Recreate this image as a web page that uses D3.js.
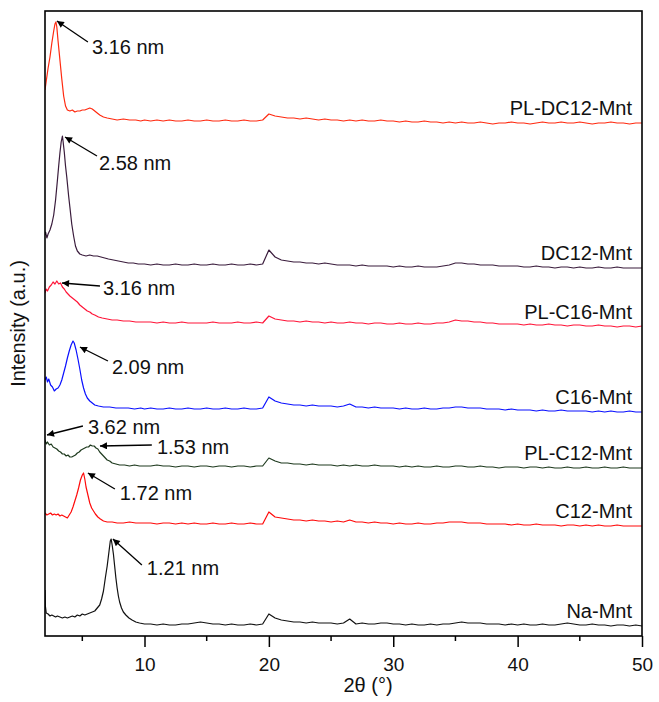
<!DOCTYPE html>
<html>
<head>
<meta charset="utf-8">
<script src="https://cdn.jsdelivr.net/npm/d3@7"></script>
<style>
  body { margin: 0; background: #fff; }
  svg text { font-family: "Liberation Sans", Arial, Helvetica, sans-serif; fill: #111; }
</style>
</head>
<body>
<svg id="chart" width="659" height="702"></svg>
<script>
// sample names, top to bottom
const sampleNames = ['PL-DC12-Mnt', 'DC12-Mnt', 'PL-C16-Mnt', 'C16-Mnt', 'PL-C12-Mnt', 'C12-Mnt', 'Na-Mnt'];
// vertical stacking offset of each pattern (a.u.)
const offsets = [513, 368, 309, 224, 168, 110, 10];

// low angle part, [2theta, intensity above baseline]
const lowPLDC12 = [[2.0, 33], [2.1, 42], [2.25, 55], [2.4, 66], [2.55, 80], [2.7, 92], [2.8, 99], [2.88, 101], [2.95, 96],
  [3.05, 82], [3.2, 63], [3.35, 44], [3.5, 27], [3.65, 17], [3.8, 13], [4.0, 12], [4.2, 13], [4.4, 11], [4.6, 12],
  [4.8, 12], [5.0, 13], [5.2, 13], [5.4, 14], [5.6, 15], [5.8, 14], [6.0, 12], [6.2, 10], [6.4, 8], [6.7, 6],
  [7.0, 5], [7.4, 4], [7.8, 3], [8.3, 4], [8.8, 3], [9.3, 3], [9.7, 2]];
const lowDC12 = [[2.0, 33], [2.05, 36], [2.15, 30], [2.25, 34], [2.4, 38], [2.55, 44], [2.7, 53], [2.85, 68], [3.0, 88],
  [3.1, 102], [3.2, 115], [3.3, 126], [3.4, 132], [3.45, 127], [3.55, 116], [3.65, 102], [3.75, 91], [3.9, 72],
  [4.0, 61], [4.15, 44], [4.3, 32], [4.45, 22], [4.6, 17], [4.8, 14], [5.0, 13], [5.3, 12], [5.6, 13], [5.9, 12],
  [6.2, 12], [6.5, 11], [6.8, 10], [7.1, 9], [7.5, 8], [7.9, 7], [8.3, 6], [8.7, 5], [9.1, 5], [9.5, 4]];
const lowPLC16 = [[2.0, 34], [2.1, 38], [2.2, 36], [2.35, 40], [2.5, 42], [2.65, 45], [2.8, 43], [2.95, 46], [3.1, 43],
  [3.25, 44], [3.4, 40], [3.55, 38], [3.7, 35], [3.85, 33], [4.0, 31], [4.2, 29], [4.4, 27], [4.6, 25], [4.8, 22],
  [5.0, 20], [5.2, 18], [5.4, 16], [5.6, 15], [5.8, 13], [6.0, 12], [6.3, 10], [6.6, 9], [7.0, 8], [7.4, 7],
  [7.8, 7], [8.3, 6], [8.8, 6], [9.3, 5], [9.7, 5]];
const lowC16 = [[2.0, 32], [2.1, 35], [2.2, 30], [2.3, 33], [2.45, 27], [2.6, 25], [2.75, 21], [2.9, 23], [3.05, 24],
  [3.2, 27], [3.35, 32], [3.5, 39], [3.65, 46], [3.8, 54], [3.95, 61], [4.1, 67], [4.25, 71], [4.35, 69], [4.5, 62],
  [4.65, 53], [4.8, 43], [4.95, 32], [5.1, 24], [5.25, 18], [5.4, 14], [5.6, 11], [5.8, 9], [6.0, 7], [6.3, 6],
  [6.7, 5], [7.2, 5], [7.7, 4], [8.2, 4], [8.7, 4], [9.2, 3], [9.7, 4]];
const lowPLC12 = [[2.0, 28], [2.1, 24], [2.2, 26], [2.35, 23], [2.5, 24], [2.65, 21], [2.8, 20], [2.95, 19], [3.1, 17],
  [3.25, 16], [3.4, 14], [3.55, 14], [3.7, 12], [3.85, 13], [4.0, 11], [4.15, 11], [4.3, 12], [4.45, 13], [4.6, 15],
  [4.75, 16], [4.9, 18], [5.05, 19], [5.2, 20], [5.35, 21], [5.5, 21], [5.65, 23], [5.8, 22], [5.95, 22], [6.1, 20],
  [6.25, 19], [6.4, 16], [6.55, 14], [6.7, 12], [6.85, 10], [7.0, 8], [7.2, 7], [7.4, 5], [7.7, 4], [8.0, 3],
  [8.4, 3], [8.8, 2], [9.2, 3], [9.6, 2]];
const lowC12 = [[2.0, 13], [2.15, 11], [2.3, 12], [2.45, 13], [2.6, 11], [2.75, 12], [2.9, 11], [3.05, 12], [3.2, 10],
  [3.35, 11], [3.5, 10], [3.65, 9], [3.8, 8], [3.95, 11], [4.1, 14], [4.25, 19], [4.4, 25], [4.55, 31], [4.7, 38],
  [4.85, 46], [5.0, 51], [5.1, 53], [5.2, 47], [5.3, 39], [5.45, 31], [5.6, 23], [5.75, 18], [5.9, 15], [6.05, 12],
  [6.25, 9], [6.45, 7], [6.7, 5], [7.0, 4], [7.4, 4], [7.8, 3], [8.3, 3], [8.8, 4], [9.3, 3], [9.7, 3]];
const lowNa = [[2.0, 36], [2.03, 20], [2.1, 13], [2.25, 12], [2.4, 10], [2.55, 11], [2.7, 10], [2.85, 9], [3.0, 10],
  [3.2, 9], [3.4, 8], [3.6, 9], [3.8, 8], [4.0, 9], [4.2, 10], [4.4, 9], [4.6, 11], [4.8, 10], [5.0, 12], [5.2, 11],
  [5.4, 12], [5.6, 13], [5.8, 14], [6.0, 15], [6.2, 18], [6.4, 21], [6.55, 27], [6.7, 35], [6.85, 48], [7.0, 60],
  [7.15, 75], [7.25, 85], [7.32, 87], [7.4, 81], [7.5, 72], [7.6, 60], [7.7, 48], [7.8, 38], [7.9, 30], [8.0, 24],
  [8.15, 18], [8.3, 14], [8.5, 11], [8.75, 8], [9.0, 6], [9.3, 4], [9.6, 3]];

// 10-50 degrees, common angle grid
const highAngles = [
  10, 10.5, 11, 11.5, 12, 12.5, 13, 13.5, 14, 14.5,
  15, 15.5, 16, 16.5, 17, 17.5, 18, 18.5, 19, 19.5,
  20, 20.5, 21, 21.5, 22, 22.5, 23, 23.5, 24, 24.5,
  25, 25.5, 26, 26.5, 27, 27.5, 28, 28.5, 29, 29.5,
  30, 30.5, 31, 31.5, 32, 32.5, 33, 33.5, 34, 34.5,
  35, 35.5, 36, 36.5, 37, 37.5, 38, 38.5, 39, 39.5,
  40, 40.5, 41, 41.5, 42, 42.5, 43, 43.5, 44, 44.5,
  45, 45.5, 46, 46.5, 47, 47.5, 48, 48.5, 49, 49.5,
  50];
const highPLDC12 = [
  3, 2, 3, 2, 3, 2, 2, 3, 2, 2,
  3, 2, 2, 3, 2, 2, 3, 2, 2, 3,
  9, 7, 6, 5, 5, 4, 5, 4, 3, 4,
  3, 3, 2, 3, 2, 3, 2, 2, 3, 2,
  2, 1, 2, 1, 1, 2, 1, 1, 0, 1,
  0, 1, 0, 0, 1, 0, -1, 0, 0, 1,
  0, 0, -1, 0, 1, 0, 0, 1, 0, 0,
  1, 0, -1, 0, 0, 1, 0, 0, -1, 0,
  0];
const highDC12 = [
  4, 3, 4, 3, 3, 4, 3, 3, 4, 3,
  3, 4, 3, 3, 4, 3, 3, 4, 3, 4,
  18, 11, 8, 7, 6, 6, 5, 5, 4, 5,
  4, 3, 3, 3, 2, 3, 2, 2, 2, 2,
  1, 2, 1, 1, 2, 1, 1, 1, 2, 3,
  5, 5, 4, 4, 3, 3, 3, 2, 2, 2,
  2, 1, 1, 2, 1, 1, 0, 1, 1, 0,
  1, 0, 0, 1, 0, 0, 1, 0, 0, 0,
  0];
const highPLC16 = [
  5, 5, 4, 5, 4, 4, 5, 4, 4, 4,
  4, 5, 4, 4, 4, 5, 4, 4, 5, 4,
  11, 8, 7, 6, 6, 5, 6, 5, 5, 4,
  5, 4, 4, 5, 4, 4, 3, 4, 4, 3,
  3, 4, 3, 3, 4, 3, 3, 4, 4, 5,
  7, 6, 6, 5, 5, 4, 4, 3, 3, 3,
  3, 2, 3, 2, 2, 3, 2, 2, 1, 2,
  2, 1, 1, 2, 1, 1, 0, 1, 1, 0,
  1];
const highC16 = [
  3, 4, 3, 3, 4, 3, 3, 4, 3, 3,
  4, 3, 3, 4, 3, 3, 4, 3, 3, 4,
  15, 11, 9, 8, 7, 7, 6, 7, 6, 6,
  6, 5, 6, 8, 5, 5, 4, 5, 4, 4,
  4, 3, 4, 3, 3, 4, 3, 3, 4, 4,
  5, 5, 4, 4, 4, 3, 3, 3, 2, 3,
  2, 2, 2, 1, 2, 1, 1, 2, 1, 1,
  1, 1, 0, 1, 0, 1, 0, 0, 1, 0,
  0];
const highPLC12 = [
  2, 2, 3, 2, 2, 1, 2, 2, 1, 2,
  2, 1, 2, 2, 1, 2, 2, 1, 2, 2,
  10, 7, 5, 5, 4, 4, 3, 4, 3, 3,
  3, 2, 3, 2, 3, 2, 2, 3, 2, 2,
  2, 1, 2, 1, 2, 1, 1, 2, 1, 1,
  2, 2, 1, 1, 2, 1, 1, 0, 1, 1,
  1, 0, 1, 1, 0, 1, 0, 0, 1, 0,
  0, 1, 0, 0, 1, 0, 0, 1, 0, 0,
  0];
const highC12 = [
  3, 3, 2, 3, 3, 2, 3, 2, 3, 2,
  2, 3, 2, 2, 3, 2, 2, 3, 2, 2,
  14, 9, 8, 7, 6, 6, 5, 6, 5, 5,
  4, 5, 4, 6, 4, 4, 3, 4, 3, 3,
  2, 3, 2, 2, 3, 2, 2, 3, 3, 4,
  4, 4, 3, 3, 3, 2, 2, 2, 2, 1,
  2, 1, 1, 2, 1, 1, 1, 0, 1, 1,
  0, 1, 0, 1, 0, 0, 1, 0, 0, 0,
  0];
const highNa = [
  2, 2, 1, 2, 1, 1, 2, 2, 3, 4,
  3, 2, 2, 1, 2, 1, 1, 2, 1, 2,
  12, 8, 6, 5, 4, 4, 3, 4, 3, 3,
  3, 2, 3, 7, 2, 3, 2, 2, 3, 3,
  2, 2, 1, 2, 1, 1, 2, 1, 2, 2,
  3, 4, 3, 3, 3, 2, 2, 2, 1, 2,
  1, 2, 1, 1, 2, 1, 1, 2, 3, 2,
  1, 1, 2, 1, 1, 0, 1, 1, 0, 1,
  0];

// d-spacing annotations: sample index, arrow tip, arrow tail, text anchor ([2theta, intensity above baseline])
const annoSample = [0, 1, 2, 3, 4, 4, 5, 6];
const annoText = ['3.16 nm', '2.58 nm', '3.16 nm', '2.09 nm', '3.62 nm', '1.53 nm', '1.72 nm', '1.21 nm'];
const annoTip = [[2.96, 102], [3.61, 131], [3.37, 44], [4.81, 65], [2.16, 33], [6.42, 22], [5.45, 53], [7.46, 87]];
const annoTail = [[5.45, 81], [6.18, 112], [6.42, 41], [7.06, 51], [5.05, 42], [10.59, 23], [7.62, 37], [9.79, 61]];
const annoLabel = [[5.78, 76], [6.34, 105], [6.66, 39], [7.38, 45], [5.45, 41], [11.0, 21], [8.02, 33], [10.19, 58]];

const xTicks = [10, 20, 30, 40, 50];
const xMinorTicks = [5, 15, 25, 35, 45];

/* styles */
const lineColors = ['#ff2a10', '#3a1c3c', '#ff1438', '#0a10ff', '#1e3a1e', '#ff0a0a', '#111111'];

const lows = [lowPLDC12, lowDC12, lowPLC16, lowC16, lowPLC12, lowC12, lowNa];
const highs = [highPLDC12, highDC12, highPLC16, highC16, highPLC12, highC12, highNa];
highs.forEach((h, i) => { if (h.length !== highAngles.length) throw new Error('length mismatch ' + i + ' ' + h.length); });

const series = sampleNames.map((name, i) => ({
  name: name,
  offset: offsets[i],
  color: lineColors[i],
  points: lows[i].concat(highAngles.map((a, j) => [a, highs[i][j]]))
}));

const margin = {top: 11, right: 17, bottom: 66, left: 45};
const width = 659, height = 702;
const svg = d3.select('#chart');

const x = d3.scaleLinear().domain([2, 50]).range([margin.left, width - margin.right]);
const y = d3.scaleLinear().domain([0, 625]).range([height - margin.bottom, margin.top]);

// arrow head
svg.append('defs').append('marker')
  .attr('id', 'arrow')
  .attr('viewBox', '0 0 10 10')
  .attr('refX', 10).attr('refY', 5)
  .attr('markerUnits', 'userSpaceOnUse')
  .attr('markerWidth', 10).attr('markerHeight', 7)
  .attr('orient', 'auto')
  .append('path').attr('d', 'M0,0 L10,5 L0,10 z').attr('fill', '#000');

svg.append('clipPath').attr('id', 'plotClip')
  .append('rect')
  .attr('x', x(2)).attr('y', y(625))
  .attr('width', x(50) - x(2)).attr('height', y(0) - y(625));

// patterns
const line = d3.line().x(d => x(d[0]));
svg.append('g').attr('clip-path', 'url(#plotClip)')
  .selectAll('path').data(series).enter().append('path')
  .attr('d', s => line.y(d => y(d[1] + s.offset))(s.points))
  .attr('fill', 'none')
  .attr('stroke', s => s.color)
  .attr('stroke-width', 1.2)
  .attr('stroke-linejoin', 'round');

// sample labels
svg.append('g').selectAll('text').data(series).enter().append('text')
  .attr('x', x(50) - 10)
  .attr('y', s => y(s.offset) - 8)
  .attr('text-anchor', 'end')
  .attr('font-size', 20)
  .text(s => s.name);

// annotations
const annos = annoText.map((t, i) => ({text: t, s: annoSample[i], tip: annoTip[i], tail: annoTail[i], label: annoLabel[i]}));
const ag = svg.append('g');
ag.selectAll('line').data(annos).enter().append('line')
  .attr('x1', d => x(d.tail[0]))
  .attr('y1', d => y(d.tail[1] + offsets[d.s]))
  .attr('x2', d => x(d.tip[0]))
  .attr('y2', d => y(d.tip[1] + offsets[d.s]))
  .attr('stroke', '#000')
  .attr('stroke-width', 1.3)
  .attr('marker-end', 'url(#arrow)');
ag.selectAll('text').data(annos).enter().append('text')
  .attr('x', d => x(d.label[0]))
  .attr('y', d => y(d.label[1] + offsets[d.s]))
  .attr('dy', '0.36em')
  .attr('font-size', 20)
  .text(d => d.text);

// axes
const xAxis = d3.axisBottom(x).tickValues(xTicks).tickSize(11).tickPadding(11).tickFormat(d3.format('d'));
const gx = svg.append('g').attr('transform', `translate(0,${y(0)})`).call(xAxis);
gx.select('.domain').remove();
gx.selectAll('.tick line').attr('stroke', '#000').attr('stroke-width', 1.5);
gx.selectAll('.tick text').attr('font-size', 19).attr('font-family', '"Liberation Sans", Arial, sans-serif').attr('fill', '#111');

svg.append('g').selectAll('line').data(xMinorTicks).enter().append('line')
  .attr('x1', d => x(d)).attr('x2', d => x(d))
  .attr('y1', y(0)).attr('y2', y(0) + 5)
  .attr('stroke', '#000').attr('stroke-width', 1.5);

// frame
svg.append('rect')
  .attr('x', x(2)).attr('y', y(625))
  .attr('width', x(50) - x(2)).attr('height', y(0) - y(625))
  .attr('fill', 'none').attr('stroke', '#000').attr('stroke-width', 1.6);

// axis titles
svg.append('text')
  .attr('x', (x(2) + x(50)) / 2)
  .attr('y', height - 10)
  .attr('font-size', 20)
  .text('2θ (°)');

svg.append('text')
  .attr('transform', `translate(25,${(y(0) + y(625)) / 2}) rotate(-90)`)
  .attr('text-anchor', 'middle')
  .attr('font-size', 20)
  .text('Intensity (a.u.)');
</script>
</body>
</html>
